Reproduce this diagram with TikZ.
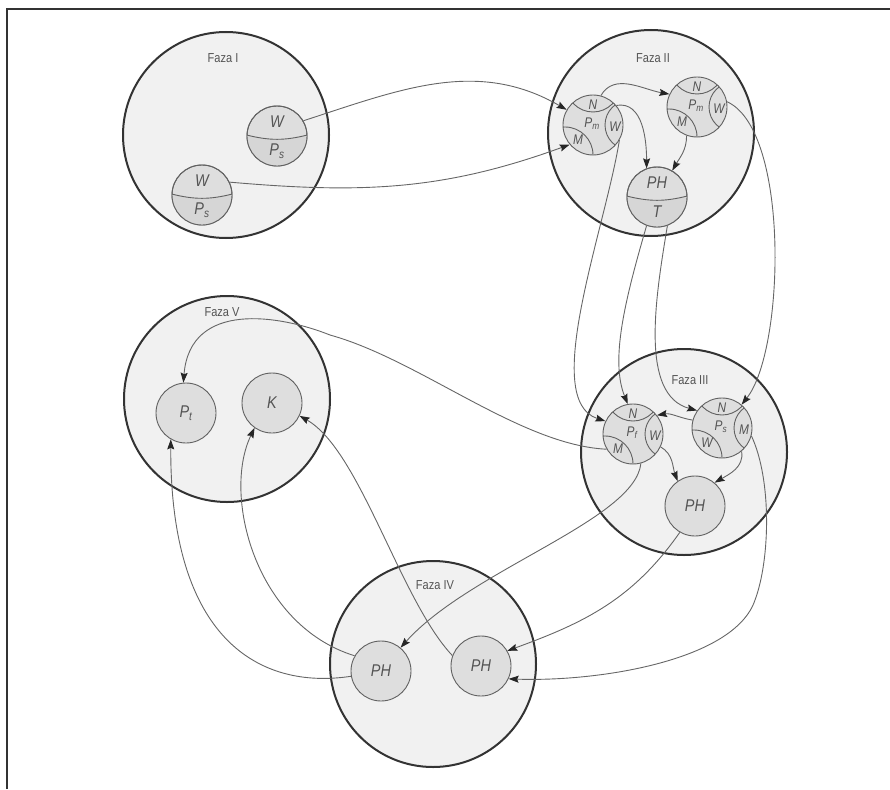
\documentclass[tikz,border=0pt]{standalone}
\usepackage{fontspec}
\setmainfont{Liberation Sans}
\newfontfamily\condfont[FakeStretch=0.85]{Liberation Sans}
\usetikzlibrary{arrows.meta}

\definecolor{ringline}{gray}{0.2}
\definecolor{phasefill}{gray}{0.945}
\definecolor{cellfill}{gray}{0.87}
\definecolor{celldark}{gray}{0.84}
\definecolor{cellline}{gray}{0.38}
\definecolor{flowline}{gray}{0.4}
\definecolor{labelgray}{gray}{0.33}

\tikzset{
  phase/.style={circle, draw=ringline, line width=2pt, fill=phasefill, minimum size=206pt, inner sep=0pt},
  cell/.style={circle, draw=cellline, line width=0.9pt, fill=cellfill, minimum size=60pt, inner sep=0pt,
    font=\condfont\itshape\fontsize{17}{17}\selectfont, text=labelgray},
  celltext/.style={inner sep=0pt, font=\condfont\itshape\fontsize{17}{17}\selectfont, text=labelgray},
  smalltext/.style={inner sep=0pt, font=\condfont\itshape\fontsize{14}{14}\selectfont, text=labelgray},
  phaselabel/.style={inner sep=0pt, font=\condfont\fontsize{13}{13}\selectfont, text=labelgray},
  flowarrow/.style={draw=flowline, line width=0.9pt, -{Stealth[length=10pt, width=7pt, inset=1.5pt, color=black!85]}},
}

% komórka dzielona poziomo: nazwa, pozycja, góra, dół
\newcommand{\halfcell}[4]{%
  \node[cell] (#1) at (#2) {};
  \begin{scope}
    \clip (#1.center) circle[radius=30pt];
    \fill[celldark] ([yshift=1pt]#1.west) to[bend right=14] ([yshift=1pt]#1.east) -- ++(0,40) -- ++(-70,0) -- cycle;
    \draw[cellline, line width=0.9pt] ([yshift=1pt]#1.west) to[bend right=14] ([yshift=1pt]#1.east);
  \end{scope}
  \draw[cellline, line width=0.9pt] (#1.center) circle[radius=30pt];
  \node[celltext] (#1-up) at ([yshift=14pt]#1.center) {#3};
  \node[celltext] (#1-lo) at ([yshift=-15pt]#1.center) {#4};
}

% komórka z trzema czapkami: nazwa, pozycja, góra, środek, prawa, lewa dolna
\newcommand{\tricell}[6]{%
  \node[cell] (#1) at (#2) {};
  \begin{scope}
    \clip (#1.center) circle[radius=30pt];
    \draw[cellline, line width=0.9pt] ([yshift=40pt]#1.center) circle[radius=27pt];
    \draw[cellline, line width=0.9pt] ([xshift=37pt]#1.center) circle[radius=25pt];
    \draw[cellline, line width=0.9pt] ([xshift=-28pt,yshift=-30pt]#1.center) circle[radius=28pt];
  \end{scope}
  \node[smalltext] (#1-n) at ([yshift=20pt]#1.center) {#3};
  \node[smalltext] (#1-p) at ([xshift=-1pt,yshift=1pt]#1.center) {#4};
  \node[smalltext] (#1-w) at ([xshift=22pt,yshift=-2pt]#1.center) {#5};
  \node[smalltext] (#1-m) at ([xshift=-15pt,yshift=-15pt]#1.center) {#6};
}

\begin{document}
\begin{tikzpicture}[x=1pt, y=-1pt]
    \useasboundingbox (0,0) rectangle (890,789);
    % ramka
    \draw[line width=2.4pt, ringline] (7,789) -- (7,9) -- (890,9);

    % Fazy
    \node[phase] (f1) at (226,135) {};
    \node[phase] (f2) at (651,133) {};
    \node[phase] (f3) at (684,452) {};
    \node[phase] (f5) at (227,399) {};
    \node[phase] (f4) at (433,664) {};
    \node[phaselabel] (l1) at (223,58) {Faza I};
    \node[phaselabel] (l2) at (653,58) {Faza II};
    \node[phaselabel] (l3) at (690,380) {Faza III};
    \node[phaselabel] (l5) at (222,312) {Faza V};
    \node[phaselabel] (l4) at (435,585) {Faza IV};

    % Komórki
    \halfcell{w1}{277,136}{W}{P\textsubscript{s}}
    \halfcell{w2}{202,195}{W}{P\textsubscript{s}}
    \tricell{c2a}{593,125}{N}{P\textsubscript{m}}{W}{M}
    \tricell{c2b}{697,107}{N}{P\textsubscript{m}}{W}{M}
    \halfcell{ph2}{657,197}{PH}{T}
    \tricell{c3a}{633,434}{N}{P\textsubscript{f}}{W}{M}
    \tricell{c3b}{722,428}{N}{P\textsubscript{s}}{M}{W}
    \node[cell] (ph3) at (695,506) {PH};
    \node[cell] (pt) at (186,413) {P\textsubscript{t}};
    \node[cell] (k) at (272,403) {K};
    \node[cell] (ph4a) at (381,671) {PH};
    \node[cell] (ph4b) at (481,666) {PH};

    % Przepływy
    \draw[flowarrow] (w1.30) to[out=18, in=150] (c2a.150);
    \draw[flowarrow] (w2.25) to[out=-5, in=200] (c2a.220);
    \draw[flowarrow] (c2a.75) to[out=60, in=170] (c2b.155);
    \draw[flowarrow] (c2a.40) to[out=10, in=90] (ph2.110);
    \draw[flowarrow] (c2b.250) to[out=270, in=60] (ph2.60);
    \draw[flowarrow] (c2b.10) .. controls (790,130) and (785,350) .. (c3b.50);
    \draw[flowarrow] (c2a.-30) .. controls (605,230) and (540,400) .. (c3a.155);
    \draw[flowarrow] (ph2.250) .. controls (625,300) and (610,360) .. (c3a.100);
    \draw[flowarrow] (ph2.290) .. controls (655,300) and (640,395) .. (c3b.145);
    \draw[flowarrow] (c3b.165) to[out=170, in=10] (c3a.38);
    \draw[flowarrow] (c3a.-25) to[out=-30, in=110] (ph3.125);
    \draw[flowarrow] (c3b.-50) to[out=-80, in=30] (ph3.50);
    \draw[flowarrow] (c3b.-15) .. controls (772,480) and (770,560) .. (755,600)
        .. controls (735,660) and (600,682) .. (ph4b.-25);
    \draw[flowarrow] (ph3.240) to[out=235, in=20] (ph4b.30);
    \draw[flowarrow] (c3a.-75) .. controls (635,520) and (470,570) .. (ph4a.50);
    \draw[flowarrow] (c3a.210) .. controls (520,445) and (420,360) .. (330,335)
        .. controls (280,315) and (190,300) .. (pt.95);
    \draw[flowarrow] (ph4a.190) .. controls (260,690) and (170,640) .. (pt.240);
    \draw[flowarrow] (ph4a.150) .. controls (255,625) and (222,495) .. (k.235);
    \draw[flowarrow] (ph4b.160) .. controls (400,600) and (360,450) .. (k.-25);
\end{tikzpicture}
\end{document}
